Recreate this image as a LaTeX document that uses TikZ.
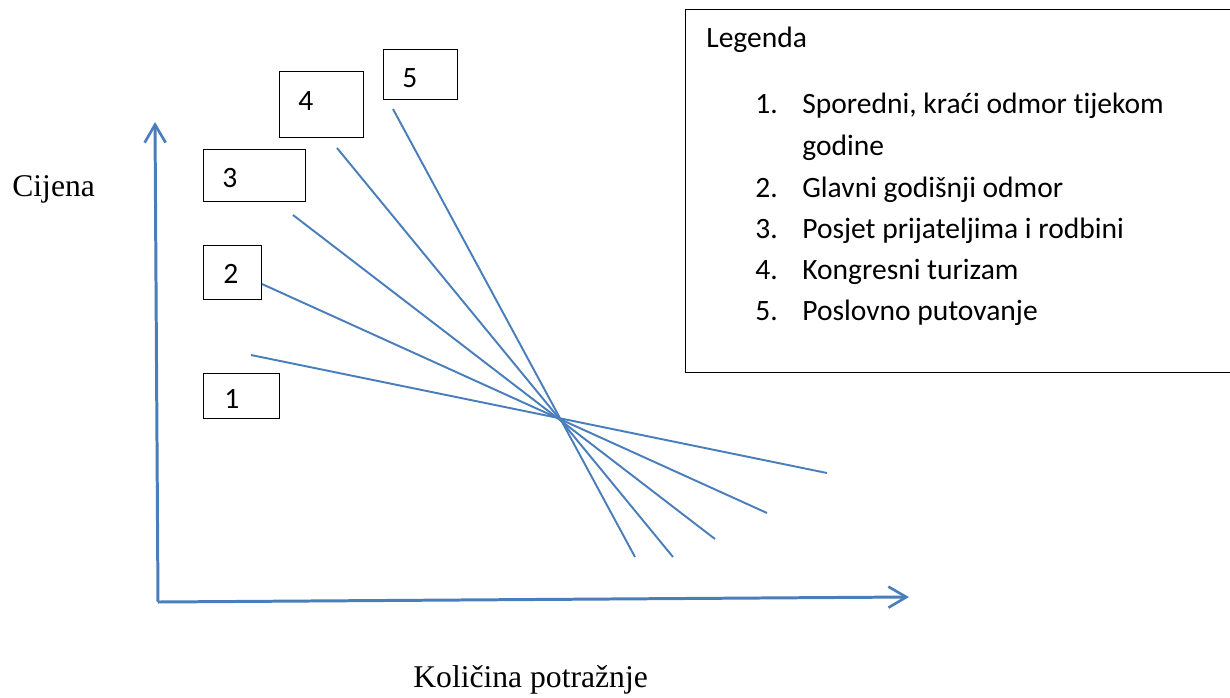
\documentclass[tikz,border=0pt]{standalone}
\usepackage{fontspec}
\setmainfont{Liberation Serif}
\newfontfamily\calib[Ligatures={NoCommon}]{Carlito}
\usepackage{tikz}
\definecolor{line-blue}{RGB}{74,126,187}
\usetikzlibrary{arrows.meta}
\newcommand*\serf{\fontsize{18}{22}\selectfont}
\newcommand*\legf{\calib\fontsize{16.8}{20}\selectfont}

\begin{document}
\begin{tikzpicture}[x=0.02cm,y=-0.02cm,
				axis/.style={draw=line-blue,line width=1.7pt,-{Straight Barb[length=0.36cm,width=0.42cm,line width=1.5pt]}},
				curve/.style={draw=line-blue,line width=1.1pt},
				box/.style={draw,line width=0.8pt,inner sep=0pt,anchor=north west},
				num/.style={anchor=base west,inner sep=0pt,font=\legf},
				txt/.style={anchor=base west,inner sep=0pt,font=\serf}]
				\useasboundingbox (0,0) rectangle (1230,697);
				% axes
				\coordinate (origin) at (158,602);
				\coordinate (ytop) at (155,122);
				\coordinate (xend) at (909,597);
				\draw[axis] (origin) -- (ytop);
				\draw[axis] (origin) -- (xend);
				\node[txt] (cijena) at (12,196) {Cijena};
				\node[txt] (kolicina) at (413,687) {Količina potražnje};
				% numbered boxes
				\node[box,minimum width=1.52cm,minimum height=0.9cm] (b1) at (203,373) {};
				\node[box,minimum width=1.16cm,minimum height=1.08cm] (b2) at (203,245) {};
				\node[box,minimum width=2.04cm,minimum height=1.04cm] (b3) at (203,149) {};
				\node[box,minimum width=1.68cm,minimum height=1.32cm] (b4) at (279,71) {};
				\node[box,minimum width=1.48cm,minimum height=1.0cm] (b5) at (383,49) {};
				\node[num] (n1) at (224,408) {1};
				\node[num] (n2) at (223,283) {2};
				\node[num] (n3) at (222,187) {3};
				\node[num] (n4) at (298,110) {4};
				\node[num] (n5) at (402,87) {5};
				% demand lines
				\coordinate (s1) at (251,355); \coordinate (e1) at (827,473);
				\coordinate (s2) at (262,284); \coordinate (e2) at (767,513);
				\coordinate (s3) at (293,215); \coordinate (e3) at (715,539);
				\coordinate (s4) at (337,148); \coordinate (e4) at (673,557);
				\coordinate (s5) at (393,109); \coordinate (e5) at (635,557);
				\foreach \i in {1,...,5}
				\draw[curve] (s\i) -- (e\i);
				% legend
				\node[box,minimum width=11.4cm,minimum height=7.26cm] (legend) at (685,9) {};
				\node[num] (leg) at (706,47) {Legenda};
				\node[num] (l1) at (755,113) {1.};
				\node[num] (t1) at (802,113) {Sporedni, kraći odmor tijekom};
				\node[num] (t1b) at (802,155) {godine};
				\node[num] (l2) at (755,197) {2.};
				\node[num] (t2) at (802,197) {Glavni godišnji odmor};
				\node[num] (l3) at (755,238) {3.};
				\node[num] (t3) at (802,238) {Posjet prijateljima i rodbini};
				\node[num] (l4) at (755,279) {4.};
				\node[num] (t4) at (802,279) {Kongresni turizam};
				\node[num] (l5) at (755,320) {5.};
				\node[num] (t5) at (802,320) {Poslovno putovanje};
				\end{tikzpicture}
\end{document}
